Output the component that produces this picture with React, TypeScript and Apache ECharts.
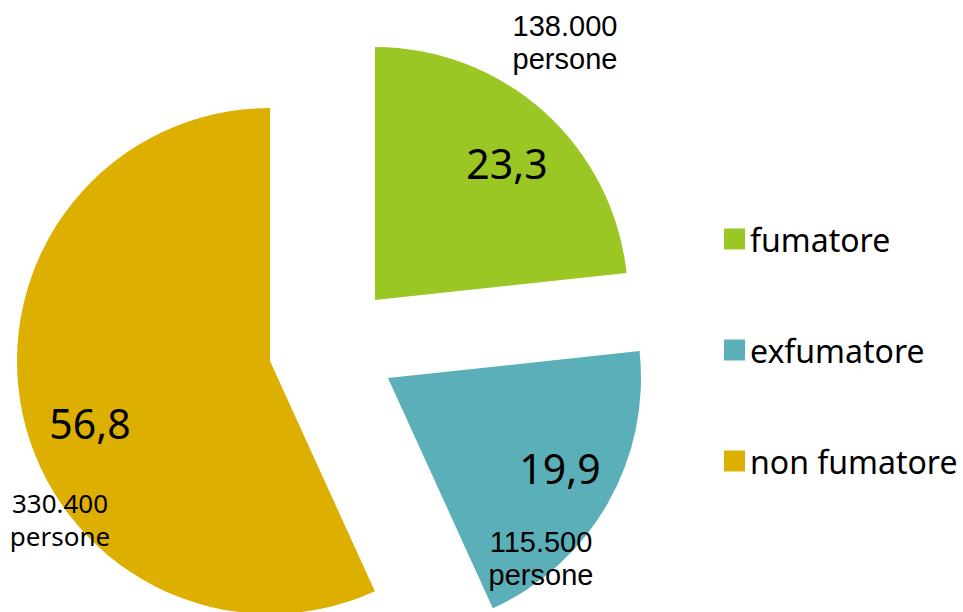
import React, { useEffect, useRef } from "react";
import * as echarts from "echarts";

const categories = ["fumatore", "exfumatore", "non fumatore"];
const percentages = [23.3, 19.9, 56.8];
const persons = [138000, 115500, 330400];
const colors = ["#9AC724", "#5AAFB8", "#DDAF00"];

// layout (per-slice explosion centres and label anchors)
const centers: [number, number][] = [
  [375, 300],
  [388, 378],
  [270, 361],
];
const RADIUS = 253;
const valueLabelPos: [number, number][] = [
  [507, 163],
  [560, 468],
  [90, 423],
];
const personLabelPos: [number, number][] = [
  [565, 42],
  [541, 558],
  [60, 519],
];
const personFonts = [
  "29px 'Liberation Sans', Arial, sans-serif",
  "29px 'Liberation Sans', Arial, sans-serif",
  "26px 'Noto Sans', sans-serif",
];

const fmtPct = (v: number) => v.toFixed(1).replace(".", ",");
const fmtInt = (v: number) => String(v).replace(/\B(?=(\d{3})+(?!\d))/g, ".");

export default function App() {
  const ref = useRef<HTMLDivElement>(null);
  useEffect(() => {
    if (!ref.current) return;
    const chart = echarts.init(ref.current, undefined, { renderer: "svg" });
    const series = categories.map((_, si) => ({
      type: "pie" as const,
      name: categories[si],
      center: centers[si],
      radius: [0, RADIUS],
      startAngle: 90,
      clockwise: true,
      silent: true,
      avoidLabelOverlap: false,
      label: { show: false },
      labelLine: { show: false },
      emphasis: { disabled: true },
      itemStyle: { borderWidth: 0 },
      data: categories.map((name, i) => ({
        name,
        value: percentages[i],
        itemStyle: { color: i === si ? colors[i] : "rgba(0,0,0,0)" },
      })),
    }));
    const graphics: any[] = [];
    categories.forEach((_, i) => {
      graphics.push({
        type: "text",
        x: valueLabelPos[i][0],
        y: valueLabelPos[i][1],
        z: 100,
        silent: true,
        style: {
          text: fmtPct(percentages[i]),
          font: "41px 'Noto Sans', sans-serif",
          fill: "#000",
          textAlign: "center",
          textVerticalAlign: "middle",
        },
      });
      graphics.push({
        type: "text",
        x: personLabelPos[i][0],
        y: personLabelPos[i][1],
        z: 100,
        silent: true,
        style: {
          text: fmtInt(persons[i]) + "\npersone",
          font: personFonts[i],
          lineHeight: 33,
          fill: "#000",
          textAlign: "center",
          textVerticalAlign: "middle",
        },
      });
    });
    chart.setOption({
      animation: false,
      backgroundColor: "#fff",
      legend: {
        orient: "vertical",
        left: 719,
        top: 218,
        itemWidth: 21,
        itemHeight: 21,
        itemGap: 79,
        icon: "rect",
        selectedMode: false,
        textStyle: {
          fontFamily: "'Noto Sans', sans-serif",
          fontSize: 32,
          lineHeight: 31,
          color: "#000",
        },
        data: categories.map((name, i) => ({
          name,
          itemStyle: { color: colors[i] },
        })),
      },
      series,
      graphic: graphics,
    });
    return () => chart.dispose();
  }, []);
  return (
    <div
      ref={ref}
      style={{ position: "absolute", left: 0, top: 0, width: 963, height: 612 }}
    />
  );
}
